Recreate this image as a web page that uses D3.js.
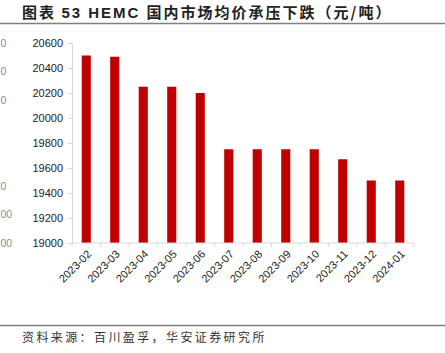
<!DOCTYPE html>
<html>
<head>
<meta charset="utf-8">
<script src="https://cdn.jsdelivr.net/npm/d3@7"></script>
<style>
  body { margin: 0; background: #fff; }
  svg { display: block; }
</style>
</head>
<body>
<svg id="chart"></svg>
<script>
const months = ["2023-02", "2023-03", "2023-04", "2023-05", "2023-06", "2023-07",
  "2023-08", "2023-09", "2023-10", "2023-11", "2023-12", "2024-01"];
const prices = [20500, 20490, 20250, 20250, 20200, 19750, 19750, 19750, 19750, 19670, 19500, 19500];
const yTicks = [19000, 19200, 19400, 19600, 19800, 20000, 20200, 20400, 20600];
// cut-off labels of the neighbouring chart on the left edge
const ghostLabels = ["0", "0", "0", "", "", "0", "00", "00"];

const size = { width: 445, height: 353 };
const margin = { left: 72, right: 31, top: 43, bottom: 110 };
const width = size.width - margin.left - margin.right;
const height = size.height - margin.top - margin.bottom;

const svg = d3.select("#chart")
  .attr("width", size.width)
  .attr("height", size.height);

const title = svg.append("text")
  .attr("x", 22)
  .attr("y", 18)
  .attr("font-size", 15)
  .attr("letter-spacing", 2)
  .attr("fill", "#222");
title.append("tspan")
  .attr("font-family", "'Noto Sans CJK SC', sans-serif")
  .attr("font-weight", "bold")
  .text("图表 ");
title.append("tspan")
  .attr("font-family", "'Liberation Sans', sans-serif")
  .attr("font-weight", "bold")
  .text("53 HEMC ");
title.append("tspan")
  .attr("font-family", "'Noto Sans CJK SC', sans-serif")
  .attr("font-weight", "bold")
  .text("国内市场均价承压下跌（元/吨）");

svg.append("line")
  .attr("x1", 0).attr("x2", size.width)
  .attr("y1", 23.5).attr("y2", 23.5)
  .attr("stroke", "#808080").attr("stroke-width", 1.6);

svg.append("line")
  .attr("x1", 0).attr("x2", size.width)
  .attr("y1", 325.5).attr("y2", 325.5)
  .attr("stroke", "#808080").attr("stroke-width", 1.6);

svg.append("text")
  .attr("x", 22)
  .attr("y", 342)
  .attr("font-family", "'Noto Sans CJK SC', sans-serif")
  .attr("font-size", 12)
  .attr("letter-spacing", 2.4)
  .attr("fill", "#333")
  .text("资料来源：百川盈孚，华安证券研究所");

const g = svg.append("g")
  .attr("transform", `translate(${margin.left},${margin.top})`);

const y = d3.scaleLinear().domain([19000, 20600]).range([height, 0]);
const x = d3.scaleBand().domain(months).range([0, width]).paddingInner(0.68).paddingOuter(0.34);

const ghost = d3.scalePoint().domain(d3.range(ghostLabels.length)).range([0, height]);
svg.append("g")
  .selectAll("text")
  .data(ghostLabels)
  .join("text")
  .attr("x", 0.5)
  .attr("y", (d, i) => margin.top + ghost(i))
  .attr("dy", "0.35em")
  .attr("font-family", "'Liberation Sans', sans-serif")
  .attr("font-size", 10.5)
  .attr("fill", "#8c8c8c")
  .text(d => d);

const yAxis = g.append("g")
  .call(d3.axisLeft(y).tickValues(yTicks).tickSize(4).tickPadding(5).tickFormat(d3.format("d")));
yAxis.select(".domain").attr("stroke", "#d9d9d9");
yAxis.selectAll(".tick line").attr("stroke", "#d9d9d9");
yAxis.selectAll("text")
  .attr("font-family", "'Liberation Sans', sans-serif")
  .attr("font-size", 11)
  .attr("fill", "#222");

g.selectAll("rect")
  .data(prices)
  .join("rect")
  .attr("x", (d, i) => x(months[i]))
  .attr("y", d => y(d))
  .attr("width", x.bandwidth())
  .attr("height", d => height - y(d))
  .attr("fill", "#c00000");

const xAxis = g.append("g")
  .attr("transform", `translate(0,${height})`);
xAxis.append("line")
  .attr("x1", 0).attr("x2", width)
  .attr("stroke", "#d9d9d9");
const step = x.step();
xAxis.selectAll(".xtick")
  .data(d3.range(months.length + 1))
  .join("line")
  .attr("class", "xtick")
  .attr("x1", i => i * step).attr("x2", i => i * step)
  .attr("y1", 0).attr("y2", 4)
  .attr("stroke", "#d9d9d9");
xAxis.selectAll("text")
  .data(months)
  .join("text")
  .attr("transform", d => `translate(${x(d) + x.bandwidth() / 2 + 3},9) rotate(-45)`)
  .attr("text-anchor", "end")
  .attr("dy", "0.35em")
  .attr("font-family", "'Liberation Sans', sans-serif")
  .attr("font-size", 11)
  .attr("fill", "#222")
  .text(d => d);
</script>
</body>
</html>
